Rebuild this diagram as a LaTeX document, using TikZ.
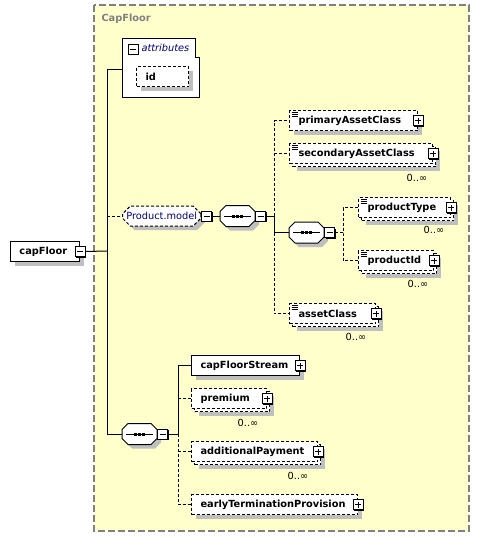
\documentclass[tikz,border=0pt]{standalone}
\usepackage{fontspec}
\setmainfont{DejaVu Sans}
\usetikzlibrary{shapes.misc,shadows}
\definecolor{capbg}{RGB}{255,255,204}
\definecolor{capline}{RGB}{128,128,128}
\definecolor{navy}{RGB}{0,0,128}
\newcommand\elemfont{\fontsize{9.8}{11}\selectfont\bfseries}
\newcommand\grpfont{\fontsize{9.8}{11}\selectfont}
\hyphenpenalty=10000
\tikzset{
  sdw/.style={drop shadow={shadow xshift=4pt,shadow yshift=-4pt,fill=gray!50,opacity=1}},
  opt/.style={dash pattern=on 3pt off 2pt},
  elem/.style={draw,fill=white,anchor=north west,minimum height=20pt,inner xsep=9pt,inner ysep=0pt,
    text width=#1,align=left,font=\elemfont},
  one/.style={elem=#1,sdw},
  many/.style={elem=#1,opt,
    drop shadow={shadow xshift=7pt,shadow yshift=-7pt,fill=gray!50,opacity=1},
    copy shadow={shadow xshift=3pt,shadow yshift=-3pt,draw=black,fill=white,opt}},
  cplx/.style={path picture={\foreach \k in {1.5,3.5,5.5}
      \draw[solid,line width=0.8pt] ([shift={(2pt,-\k pt)}]path picture bounding box.north west) -- ++(6pt,0pt);}},
  pmbox/.style={draw,fill=white,minimum size=10pt,inner sep=0pt,
    drop shadow={shadow xshift=1pt,shadow yshift=-1pt,fill=black,opacity=1}},
  minus/.style={pmbox,path picture={
      \draw ([xshift=2pt]path picture bounding box.west) -- ([xshift=-2pt]path picture bounding box.east);}},
  plus/.style={pmbox,path picture={
      \draw ([xshift=2pt]path picture bounding box.west) -- ([xshift=-2pt]path picture bounding box.east);
      \draw ([yshift=2pt]path picture bounding box.south) -- ([yshift=-2pt]path picture bounding box.north);}},
  grp/.style={chamfered rectangle,chamfered rectangle sep=4pt,draw,opt,fill=white,
    minimum width=76pt,minimum height=20pt,inner sep=0pt,anchor=west,font=\grpfont,text=navy,sdw},
  seq/.style={minimum width=34pt,minimum height=20pt,inner sep=0pt,anchor=west},
  mult/.style={font=\grpfont,inner sep=0pt}
}
% sequence compositor outline and icon
\newcommand\seqoct[1]{%
  \draw[fill=white,sdw] ([xshift=6pt]#1.north west) -- ([xshift=-6pt]#1.north east)
    -- ([yshift=-6pt]#1.north east) -- ([yshift=6pt]#1.south east) -- ([xshift=-6pt]#1.south east)
    -- ([xshift=6pt]#1.south west) -- ([yshift=6pt]#1.south west) -- ([yshift=-6pt]#1.north west) -- cycle;
  \draw ([xshift=4pt]#1.west) -- ([xshift=-4pt]#1.east);
  \foreach \k in {-4,0,4}
    \fill ([xshift=\k pt]#1.center) +(-1.5pt,-1.5pt) rectangle +(1.5pt,1.5pt);}
\begin{document}
\begin{tikzpicture}[x=1pt,y=-1pt,line width=1pt]
\useasboundingbox (0,0) rectangle (479,536);
% complex type frame
\draw[capline,fill=capbg,line width=1.2pt,dash pattern=on 7pt off 3pt] (94,5) rectangle (469,531);
\node[anchor=west,inner sep=0pt,text=capline,font=\elemfont] (title) at (101,19) {CapFloor};

% root element
\node[one=51pt] (cf) at (10,241) {capFloor};
\node[minus] (cfx) at (cf.east) {};

% attributes
\draw[fill=white] (122,38) -- (195,38) -- (195,57) -- (199,57) -- (199,97) -- (122,97) -- cycle;
\node[minus] (attx) at (133,49) {};
\node[anchor=west,inner sep=0pt,font=\grpfont\itshape,text=navy] (attl) at (141,48) {attributes};
\node[elem=34pt,opt,sdw] (id) at (136,66) {id};
\coordinate (attin) at (122,69);

% Product.model
\node[grp] (pm) at (122,216) {Product.model};
\node[minus,anchor=west] (pmx) at (pm.east) {};
\node[seq] (s1) at (220,216) {}; \seqoct{s1}
\node[minus,anchor=west] (s1x) at (s1.east) {};
\node[one=110pt,opt,cplx] (pac) at (289,110) {primaryAssetClass};
\node[plus] (pacx) at (pac.east) {};
\node[many=125pt,cplx] (sac) at (289,143) {secondaryAssetClass};
\node[plus] (sacx) at (sac.east) {};
\node[mult] (sacm) at ([shift={(-16,14)}]sac.south east) {0..∞};
\node[seq] (s2) at (289,232.5) {}; \seqoct{s2}
\node[minus,anchor=west] (s2x) at (s2.east) {};
\node[many=74pt,cplx] (pt) at (358,197) {productType};
\node[plus] (ptx) at (pt.east) {};
\node[mult] (ptm) at ([shift={(-17,12)}]pt.south east) {0..∞};
\node[many=57pt,cplx] (pid) at (358,250) {productId};
\node[plus] (pidx) at (pid.east) {};
\node[mult] (pidm) at ([shift={(-16,13)}]pid.south east) {0..∞};
\node[many=68pt,cplx] (ac) at (289,303) {assetClass};
\node[plus] (acx) at (ac.east) {};
\node[mult] (acm) at ([shift={(-20,13)}]ac.south east) {0..∞};

% capFloor sequence
\node[seq] (s3) at (122,434) {}; \seqoct{s3}
\node[minus,anchor=west] (s3x) at (s3.east) {};
\node[one=90pt] (cfs) at (191,355) {capFloorStream};
\node[plus] (cfsx) at (cfs.east) {};
\node[many=57pt] (prem) at (191,388) {premium};
\node[plus] (premx) at (prem.east) {};
\node[mult] (premm) at ([shift={(-19,14)}]prem.south east) {0..∞};
\node[many=108pt] (addp) at (191,441) {additionalPayment};
\node[plus] (addpx) at (addp.east) {};
\node[mult] (addpm) at ([shift={(-20,14)}]addp.south east) {0..∞};
\node[one=148pt,opt] (etp) at (191,494) {earlyTerminationProvision};
\node[plus] (etpx) at (etp.east) {};

% connectors
\coordinate (r) at (107,251);
\draw (cfx.east) -- (r);
\draw (r |- attin) -- (r |- s3.west);
\draw (r |- attin) -- (attin);
\draw[opt] (r |- pm.west) -- (pm.west);
\draw (r |- s3.west) -- (s3.west);
\draw (pmx.east) -- (s1.west);
\coordinate (ja) at ([xshift=8pt]s1x.east);
\draw (s1x.east) -- (ja);
\draw[opt] (ja) -- (ja |- pac.west) -- (pac.west);
\draw[opt] (ja |- sac.west) -- (sac.west);
\draw (ja) -- (ja |- s2.west) -- (s2.west);
\draw[opt] (ja |- s2.west) -- (ja |- ac.west) -- (ac.west);
\coordinate (jb) at ([xshift=8pt]s2x.east);
\draw[opt] (s2x.east) -- (jb);
\draw[opt] (pt.west) -| (jb) |- (pid.west);
\coordinate (jc) at ([xshift=10pt]s3x.east);
\draw (s3x.east) -- (jc);
\draw (jc) -- (jc |- cfs.west) -- (cfs.west);
\draw[opt] (jc |- prem.west) -- (prem.west);
\draw[opt] (jc) -- (jc |- etp.west) -- (etp.west);
\draw[opt] (jc |- addp.west) -- (addp.west);
\end{tikzpicture}
\end{document}
